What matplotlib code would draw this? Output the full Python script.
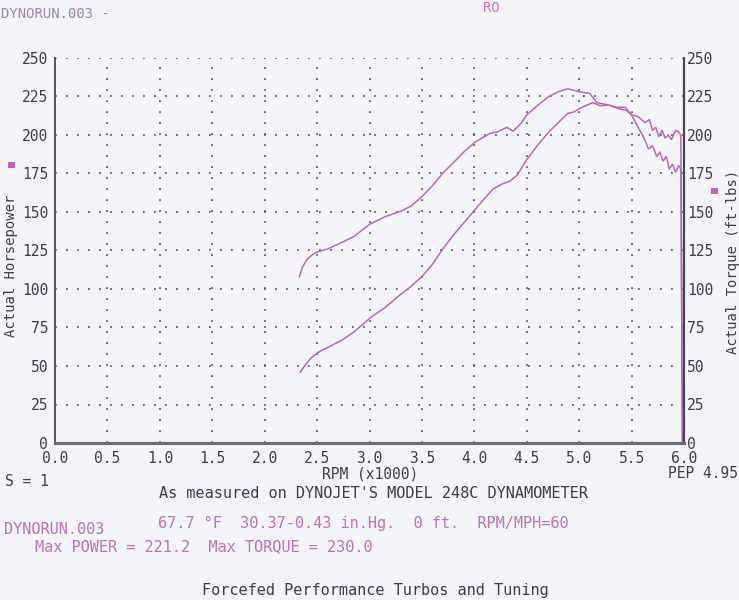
import matplotlib
matplotlib.use("Agg")
import matplotlib.pyplot as plt
from matplotlib.patches import Rectangle

# ---------------- data ----------------
torque_rpm = [2.33, 2.36, 2.40, 2.45, 2.50, 2.60, 2.73, 2.85, 3.00, 3.15, 3.30, 3.40,
              3.50, 3.60, 3.71, 3.80, 3.90, 4.00, 4.07, 4.15, 4.22, 4.31, 4.37, 4.45,
              4.50, 4.60, 4.71, 4.80, 4.89, 4.95, 5.00, 5.10, 5.17, 5.28, 5.38, 5.45,
              5.50, 5.57, 5.62, 5.66, 5.70, 5.74, 5.77, 5.80, 5.83, 5.86, 5.89, 5.92,
              5.95, 5.97, 5.985]
torque_val = [108, 114, 119, 122, 124, 126, 130, 134, 142, 147, 150.5, 154,
              160, 167, 176, 182, 189, 195, 198, 201, 202, 205, 202.5, 208,
              213, 219, 225, 228, 230, 229, 228, 227, 221, 219.5, 217, 216,
              213, 204, 198, 191, 193, 186, 189, 183, 186, 178, 181, 176,
              180, 178, 0]

hp_rpm = [2.34, 2.38, 2.44, 2.50, 2.60, 2.73, 2.85, 3.02, 3.15, 3.27, 3.40, 3.50,
          3.60, 3.71, 3.80, 3.90, 4.00, 4.10, 4.18, 4.26, 4.34, 4.41, 4.50, 4.60,
          4.71, 4.80, 4.89, 4.95, 5.00, 5.06, 5.13, 5.20, 5.28, 5.35, 5.44, 5.50,
          5.56, 5.63, 5.67, 5.70, 5.73, 5.76, 5.79, 5.82, 5.85, 5.88, 5.92, 5.95,
          5.97, 5.985]
hp_val = [46, 50, 55, 58.5, 62, 66.5, 72, 82, 88, 95, 102, 108,
          116, 127, 135, 143, 151, 159, 165, 168, 170, 174, 184, 193,
          202, 208, 214, 215, 217, 219, 221, 219, 219.5, 218, 218, 213,
          212, 208, 210, 203, 205, 199, 203, 198, 200, 197, 203, 202,
          200, 0]

x_ticks = [0.0, 0.5, 1.0, 1.5, 2.0, 2.5, 3.0, 3.5, 4.0, 4.5, 5.0, 5.5, 6.0]
y_ticks = [0, 25, 50, 75, 100, 125, 150, 175, 200, 225, 250]

# ---------------- styling ----------------
BG = "#f3f5f9"
INK = "#3c3c4c"
PINK = "#b868b8"
MONO = ["DejaVu Sans Mono"]

fig = plt.figure(figsize=(7.39, 6.0), dpi=100, facecolor=BG)
ax = fig.add_axes([55 / 739, 1 - 443 / 600, 629 / 739, 385 / 600], facecolor=BG)

ax.plot(torque_rpm, torque_val, color=PINK, lw=1.1)
ax.plot(hp_rpm, hp_val, color=PINK, lw=1.1)

ax.set_xlim(0, 6)
ax.set_ylim(0, 250)
ax.set_xticks(x_ticks)
ax.set_xticklabels([f"{v:.1f}" for v in x_ticks], family=MONO, fontsize=10.5, color=INK)
ax.set_yticks(y_ticks)
ax.set_yticklabels([str(v) for v in y_ticks], family=MONO, fontsize=10.5, color=INK)
ax.tick_params(axis="both", length=0)
ax.tick_params(axis="x", pad=6)
ax.tick_params(axis="y", pad=5)

ax2 = ax.twinx()
ax2.set_ylim(0, 250)
ax2.set_yticks(y_ticks)
ax2.set_yticklabels([str(v) for v in y_ticks], family=MONO, fontsize=10.5, color=INK)
ax2.tick_params(axis="y", length=0, pad=2)

ax.grid(True, color="#4a4a55", linestyle=(0, (1.2, 6)), linewidth=1.1)
for a in (ax, ax2):
    a.spines["top"].set_visible(False)
    a.spines["left"].set_color("#555560")
    a.spines["left"].set_linewidth(1.2)
    a.spines["right"].set_color("#444450")
    a.spines["right"].set_linewidth(1.5)
    a.spines["bottom"].set_color("#6a6a72")
    a.spines["bottom"].set_linewidth(2.2)

# axis titles
fig.text(11 / 739, 1 - 266 / 600, "Actual Horsepower", rotation=90, ha="center", va="center",
         family=MONO, fontsize=10, color=INK)
fig.text(733 / 739, 1 - 262 / 600, "Actual Torque (ft-lbs)", rotation=90, ha="center", va="center",
         family=MONO, fontsize=10, color=INK)
fig.patches.append(Rectangle((8 / 739, 1 - 168 / 600), 7 / 739, 6 / 600, transform=fig.transFigure,
                             facecolor="#c060c0", edgecolor="none"))
fig.patches.append(Rectangle((711 / 739, 1 - 194 / 600), 7 / 739, 6 / 600, transform=fig.transFigure,
                             facecolor="#c060c0", edgecolor="none"))

# header
fig.text(1 / 739, 1 - 14 / 600, "DYNORUN.003 -", ha="left", va="center", family=MONO,
         fontsize=10, color="#9a88a8")
fig.text(491 / 739, 1 - 8 / 600, "RO", ha="center", va="center", family=MONO,
         fontsize=10, color="#d070c8")

# footer
fig.text(370 / 739, 1 - 474 / 600, "RPM (x1000)", ha="center", va="center", family=MONO,
         fontsize=10.5, color=INK)
fig.text(5 / 739, 1 - 481 / 600, "S = 1", ha="left", va="center", family=MONO,
         fontsize=10.5, color=INK)
fig.text(668 / 739, 1 - 474 / 600, "PEP 4.95", ha="left", va="center", family=MONO,
         fontsize=10.5, color=INK)
fig.text(373 / 739, 1 - 493 / 600, "As measured on DYNOJET'S MODEL 248C DYNAMOMETER",
         ha="center", va="center", family=MONO, fontsize=11, color=INK)
fig.text(4 / 739, 1 - 530 / 600, "DYNORUN.003", ha="left", va="center", family=MONO,
         fontsize=11, color="#c070b8")
fig.text(158 / 739, 1 - 523 / 600, "67.7 \u00b0F  30.37-0.43 in.Hg.  0 ft.  RPM/MPH=60",
         ha="left", va="center", family=MONO, fontsize=11, color="#c070b8")
fig.text(35 / 739, 1 - 547 / 600, "Max POWER = 221.2  Max TORQUE = 230.0", ha="left",
         va="center", family=MONO, fontsize=11, color="#c070b8")
fig.text(375 / 739, 1 - 590 / 600, "Forcefed Performance Turbos and Tuning", ha="center",
         va="center", family=MONO, fontsize=11, color=INK)

fig.savefig("out.png", dpi=100, facecolor=BG)
